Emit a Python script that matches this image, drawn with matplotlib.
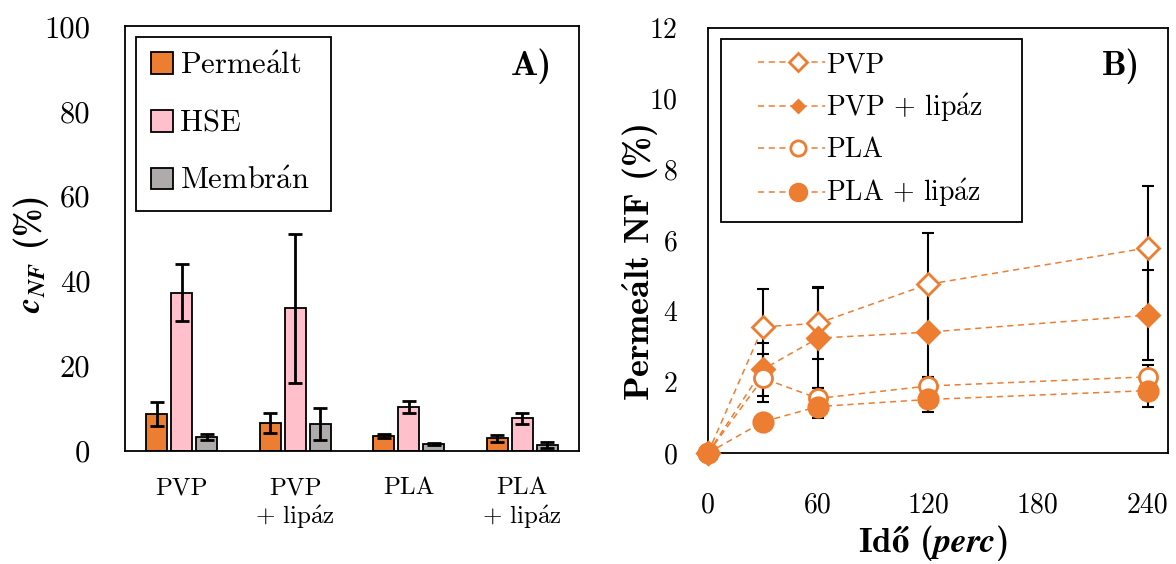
import matplotlib
matplotlib.use("Agg")
import matplotlib.pyplot as plt
import numpy as np

plt.rcParams["font.family"] = "cmr10"
plt.rcParams["mathtext.fontset"] = "cm"
plt.rcParams["axes.unicode_minus"] = False

A_ACUTE = r"$\mathrm{\acute{a}}$"

# A) koncentráció
groups = ["PVP", "PVP\n+ lip" + A_ACUTE + "z", "PLA", "PLA\n+ lip" + A_ACUTE + "z"]
permealt = [8.7, 6.6, 3.5, 3.0]
permealt_err = [2.8, 2.3, 0.5, 0.85]
hse = [37.3, 33.6, 10.4, 7.7]
hse_err = [6.8, 17.6, 1.4, 1.25]
membran = [3.3, 6.4, 1.6, 1.4]
membran_err = [0.8, 3.7, 0.3, 0.7]
bar_labels = ["Perme" + A_ACUTE + "lt", "HSE", "Membr" + A_ACUTE + "n"]

# B) permeált NF időben
time = [0, 30, 60, 120, 240]
pvp = [0, 3.56, 3.66, 4.76, 5.79]
pvp_err = [0, 1.06, 1.02, 1.46, 1.74]
pvp_lip = [0, 2.36, 3.24, 3.41, 3.89]
pvp_lip_err = [0, 0.74, 1.42, 1.26, 1.27]
pla = [0, 2.11, 1.54, 1.89, 2.15]
pla_err = [0, 0.68, 0.30, 0.26, 0.34]
pla_lip = [0, 0.88, 1.31, 1.51, 1.76]
pla_lip_err = [0, 0.10, 0.33, 0.36, 0.45]
line_labels = ["PVP", "PVP + lip" + A_ACUTE + "z", "PLA", "PLA + lip" + A_ACUTE + "z"]

ORANGE = "#ED7D31"
PINK = "#FFC0CB"
GRAY = "#AFABAB"

fig = plt.figure(figsize=(11.76, 5.64), dpi=100)

# ---- A panel ----
axA = fig.add_axes([0.1063, 0.2004, 0.3860, 0.7527])
x = np.arange(len(groups))
w = 0.185
off = 0.22
ekw = dict(elinewidth=2, capsize=4.8, capthick=2, ecolor="black")
for i, (vals, errs, col) in enumerate([(permealt, permealt_err, ORANGE),
                                        (hse, hse_err, PINK),
                                        (membran, membran_err, GRAY)]):
    axA.bar(x + (i - 1) * off, vals, w, yerr=errs, color=col, edgecolor="black",
            linewidth=1.3, error_kw=ekw, label=bar_labels[i])
axA.set_xlim(-0.5, 3.5)
axA.set_ylim(0, 100)
axA.set_yticks([0, 20, 40, 60, 80, 100])
axA.set_yticklabels(["0", "20", "40", "60", "80", "100"])
axA.set_xticks(x)
axA.set_xticklabels(groups)
axA.tick_params(axis="y", length=0, pad=25, labelsize=22)
axA.tick_params(axis="x", length=0, pad=19, labelsize=18)
for s in axA.spines.values():
    s.set_linewidth(1.3)
axA.set_ylabel(r"$\mathbfit{c}_{\mathbfit{NF}}$ (%)", fontsize=24.5, fontfamily="cmb10")
axA.yaxis.set_label_coords(-0.207, 0.462)
axA.yaxis.label.set_verticalalignment("center")
axA.text(0.94, 0.886, "A)", transform=axA.transAxes, ha="right", va="baseline",
         fontsize=26, fontfamily="cmb10")
legA = axA.legend(loc="upper left", bbox_to_anchor=(0.024, 0.5, 0.4295, 0.475),
                  mode="expand", borderaxespad=0, fontsize=22, handlelength=0.72,
                  handleheight=0.72, handletextpad=0.22, labelspacing=0.98,
                  borderpad=0.5, fancybox=False, edgecolor="black", framealpha=1)
legA.get_frame().set_linewidth(1.3)

# ---- B panel ----
axB = fig.add_axes([0.60204, 0.19681, 0.39116, 0.75408])
series = [
    (pvp, pvp_err, "D", 10.7, "white"),
    (pvp_lip, pvp_lip_err, "D", 11, ORANGE),
    (pla, pla_err, "o", 13, "white"),
    (pla_lip, pla_lip_err, "o", 14, ORANGE),
]
for vals, errs, mk, ms, fc in series:
    axB.errorbar(time, vals, yerr=errs, fmt="none", ecolor="black", elinewidth=1.5,
                 capsize=4.5, capthick=1.5, zorder=2, clip_on=False)
for (vals, errs, mk, ms, fc), lab in zip(series, line_labels):
    axB.plot(time, vals, ls=(0, (4, 3)), lw=1.1, color=ORANGE, marker=mk, ms=ms,
             mfc=fc, mec=ORANGE, mew=2, zorder=3, clip_on=False, label=lab)
axB.set_xlim(0, 251)
axB.set_ylim(0, 12)
axB.set_xticks([0, 60, 120, 180, 240])
axB.set_xticklabels(["0", "60", "120", "180", "240"])
axB.set_yticks([0, 2, 4, 6, 8, 10, 12])
axB.set_yticklabels(["0", "2", "4", "6", "8", "10", "12"])
axB.tick_params(axis="y", length=0, pad=22, labelsize=20)
axB.tick_params(axis="x", length=0, pad=28, labelsize=20)
for s in axB.spines.values():
    s.set_linewidth(1.3)
axB.set_ylabel("Perme" + r"$\mathbf{\acute{a}}$" + "lt NF (%)", fontsize=26,
               fontfamily="cmb10")
axB.yaxis.set_label_coords(-0.146, 0.449)
axB.yaxis.label.set_verticalalignment("center")
axB.set_xlabel("Id" + r"$\mathbf{ő}$" + " (" + r"$\mathbfit{perc}$" + ")",
               fontsize=25, fontfamily="cmb10")
axB.xaxis.set_label_coords(0.489, -0.212)
axB.xaxis.label.set_verticalalignment("center")
axB.text(0.939, 0.889, "B)", transform=axB.transAxes, ha="right", va="baseline",
         fontsize=25, fontfamily="cmb10")
legB = axB.legend(loc="upper left", bbox_to_anchor=(0.028, 0.5, 0.654, 0.473),
                  mode="expand", borderaxespad=0, fontsize=20, handlelength=3.3,
                  handletextpad=0.05, labelspacing=0.47, borderpad=0.45,
                  fancybox=False, edgecolor="black", framealpha=1)
legB.get_frame().set_linewidth(1.3)
for h, ms in zip(legB.legend_handles, [9.5, 6.5, 11, 12]):
    h.set_markersize(ms)
    xd = np.asarray(h.get_xdata(), dtype=float)
    x0, x1 = xd[0], xd[-1]
    h.set_xdata([x0 + 0.27 * (x1 - x0), x0 + 0.71 * (x1 - x0), x1])

fig.savefig("out.png", dpi=100)
